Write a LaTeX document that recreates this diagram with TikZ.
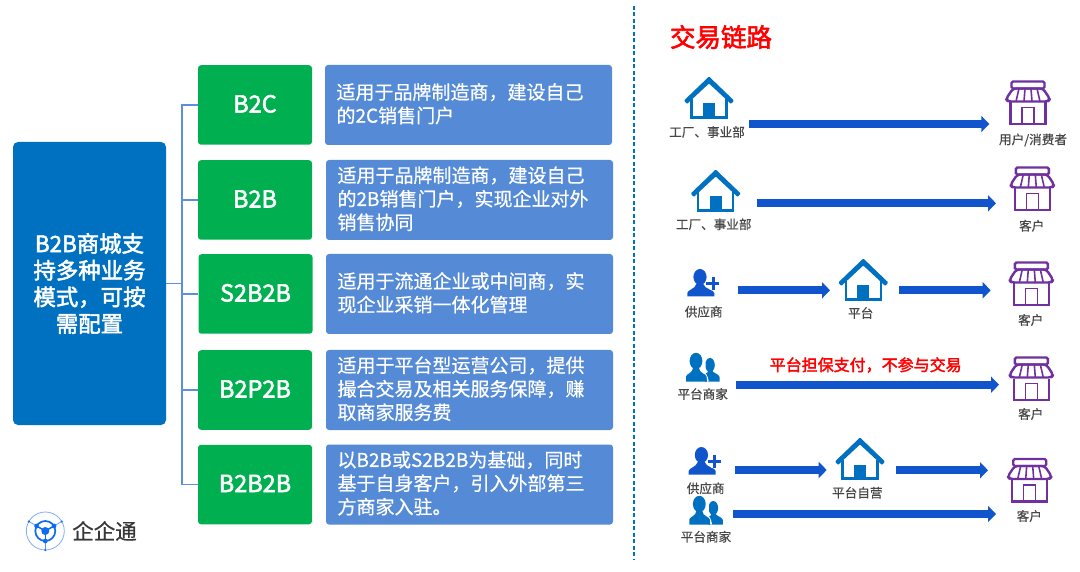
\documentclass[tikz,border=0pt]{standalone}
\usepackage{fontspec}
\setmainfont{Noto Sans CJK SC}
\newfontfamily\heavyfont{Noto Sans CJK SC}[FakeBold=2.2]
\newfontfamily\softfont{Noto Sans CJK SC}[FakeBold=0.6]
\usepackage{xcolor}
\usetikzlibrary{arrows.meta}
\definecolor{mainblue}{HTML}{0070C0}
\definecolor{boxgreen}{HTML}{00B050}
\definecolor{boxblue}{HTML}{558BD6}
\definecolor{linkblue}{HTML}{5B90DC}
\definecolor{flowblue}{HTML}{1155CC}
\definecolor{shoppurple}{HTML}{7030A0}
\definecolor{logoblue}{HTML}{0F6BF0}
\tikzset{
  mainbox/.style={fill=mainblue,rounded corners=5pt,text=white,align=center,font=\fontsize{22.4}{26.7}\selectfont\heavyfont},
  modebox/.style={fill=boxgreen,rounded corners=3pt,text=white,text height=17pt,text depth=2pt,font=\fontsize{23.5}{28}\selectfont\heavyfont},
  descbox/.style={fill=boxblue,rounded corners=3pt,text=white,align=left,font=\fontsize{19}{23.5}\selectfont\softfont,minimum width=287pt,minimum height=80pt,text width=264pt,execute at end node={\par\vspace{2.5pt}}},
  link/.style={draw=linkblue,line width=1.2pt},
  flow/.style={flowblue,line width=8pt,-{Triangle[length=8pt,width=16pt]}},
  caption/.style={text=black!72,font=\fontsize{12.6}{14}\selectfont\softfont},
  housepic/.pic={
    \fill[mainblue,rounded corners=1pt] (-25,2.5) -- (0,-21.5) -- (25,2.5) -- (22,6) -- (0,-14.5) -- (-22,6) -- cycle;
    \draw[mainblue,line width=2.2pt] (-17.5,1) -- (-17.5,19.5) -- (17.5,19.5) -- (17.5,1);
    \fill[mainblue] (-6,5.5) rectangle (6,20);
  },
  shoppic/.pic={
    \draw[shoppurple,line width=2.4pt,rounded corners=1.5pt] (-16.5,-14) rectangle (16.5,-21);
    \draw[shoppurple,line width=2.4pt,line join=round,rounded corners=3pt] (-15,-14) -- (15,-14) -- (22,-3.5) -- (20,-1) -- (-20,-1) -- (-22,-3.5) -- cycle;
    \foreach \a/\b in {-9/-12,-3/-4,3/4,9/12}
      \draw[shoppurple,line width=1.6pt] (\a,-14) -- (\b,-1);
    \draw[shoppurple,line width=2.4pt] (-17.5,0) -- (-17.5,21.5) -- (17.5,21.5) -- (17.5,0);
    \draw[shoppurple,line width=1.4pt] (-6,21.5) -- (-6,5) -- (6,5) -- (6,21.5);
  },
  addpic/.pic={
    \fill[flowblue] (0.7,-10) ellipse (6.6 and 8);
    \fill[flowblue] (-12,9.5) -- (-12,6) .. controls (-12,3) and (-4,2) .. (-3,-3) -- (4,-3) .. controls (5,2) and (15,3) .. (15,6) -- (15,9.5) -- cycle;
    \draw[white,line width=6pt] (7,-3.3) -- (20,-3.3) (13.7,-10) -- (13.7,3.4);
    \draw[flowblue,line width=3pt] (7,-3.3) -- (20,-3.3) (13.7,-10) -- (13.7,3.4);
  },
  pairpic/.pic={
    \fill[mainblue] (14,-7) ellipse (4.8 and 7);
    \fill[mainblue] (9,9.5) -- (9,2) .. controls (12,1) and (12,0) .. (12,-2) -- (16,-2) .. controls (16,1) and (23.5,2) .. (23.5,5) -- (23.5,9.5) -- cycle;
    \draw[white,line width=1.5pt] (8,-12) .. controls (10,-6) and (8,-2) .. (7.5,0) .. controls (9,2) and (11,3) .. (12,9.5);
    \fill[mainblue] (0,-11) ellipse (6.4 and 8.2);
    \fill[mainblue] (-10,9.5) -- (-10,4.5) .. controls (-10,2) and (-3,1) .. (-3,-4) -- (3,-4) .. controls (3,1) and (10.5,2) .. (10.5,4.5) -- (10.5,9.5) -- cycle;
  }
}
\begin{document}
\begin{tikzpicture}[x=1pt,y=-1pt]
\useasboundingbox (0,0) rectangle (1080,572);

% left column
\node[mainbox,minimum width=153pt,minimum height=283pt] (mode) at (89.5,283.5) {B2B商城支\\持多种业务\\模式，可按\\需配置};
\foreach \name/\x/\y/\txt in {btc/255/105/B2C,btb/255/200/B2B,sbb/255.5/294/S2B2B,bpb/255/390/B2P2B,bbb/255/484.5/B2B2B}
  \node[modebox,minimum width=114pt,minimum height=79.5pt] (\name) at (\x,\y) {\txt};

\node[descbox] (dbtc) at (468.5,105) {适用于品牌制造商，建设自己\\的2C销售门户};
\node[descbox] (dbtb) at (469.5,200) {适用于品牌制造商，建设自己\\的2B销售门户，实现企业对外\\销售协同};
\node[descbox] (dsbb) at (469.5,294) {适用于流通企业或中间商，实\\现企业采销一体化管理};
\node[descbox] (dbpb) at (469.5,390) {适用于平台型运营公司，提供\\撮合交易及相关服务保障，赚\\取商家服务费};
\node[descbox] (dbbb) at (469.5,484.5) {以B2B或S2B2B为基础，同时\\基于自身客户，引入外部第三\\方商家入驻。};

% tree lines
\coordinate (trunk) at (182,283.5);
\draw[link] (mode.east |- trunk) -- (trunk);
\foreach \name in {btc,btb,sbb,bpb,bbb}
  \draw[link] (trunk) |- (\name.west);

% logo
\coordinate (logo) at (45.3,531);
\draw[logoblue!55,line width=0.8pt] (logo) circle (19);
\draw[logoblue,line width=1.7pt] (logo) circle (10);
\fill[logoblue] (logo) circle (4);
\foreach \a in {90,210,330}{
  \draw[logoblue!70,line width=0.7pt] (logo) -- ++(\a:19);
  \draw[logoblue,line width=1.5pt] (logo) -- ++(\a:10);
  \fill[logoblue] (logo) ++(\a:10) circle (2.4);
  \fill[logoblue] (logo) ++(\a:19) circle (1.2);
}
\node[text=black!78,font=\fontsize{21.5}{24}\selectfont\softfont] (brand) at (104.5,531) {企企通};

% divider
\coordinate (dtop) at (634,6);
\coordinate (dbot) at (634,560);
\draw[mainblue,line width=1.2pt,dash pattern=on 4pt off 2.5pt] (dtop) -- (dbot);

\node[text=red,font=\fontsize{25.5}{28}\selectfont\heavyfont] (title) at (721,37) {交易链路};

% icons
\foreach \x/\y in {709/98,715.7/191,863.3/280,860/459}
  \pic at (\x,\y) {housepic};
\foreach \x/\y in {1028/102.5,1032.3/188.5,1031.3/283.5,1031.3/378.5,1029.7/480}
  \pic at (\x,\y) {shoppic};
\pic at (699.3,287) {addpic};
\pic at (700.7,465) {addpic};
\pic at (696,372) {pairpic};
\pic at (699.3,515) {pairpic};

% captions
\node[caption] (c1) at (707,132) {工厂、事业部};
\node[caption] (c2) at (1033,140) {用户/消费者};
\node[caption] (c3) at (713.7,224.3) {工厂、事业部};
\node[caption] (c4) at (1031.7,225.7) {客户};
\node[caption] (c5) at (703.7,311.7) {供应商};
\node[caption] (c6) at (860.7,313) {平台};
\node[caption] (c7) at (1030.7,320) {客户};
\node[caption] (c8) at (702.7,394) {平台商家};
\node[caption] (c9) at (1030.7,414) {客户};
\node[caption] (c10) at (705.7,488.3) {供应商};
\node[caption] (c11) at (857.3,492.7) {平台自营};
\node[caption] (c12) at (706,536.7) {平台商家};
\node[caption] (c13) at (1029.3,516) {客户};
\node[text=red,font=\fontsize{16}{18}\selectfont\heavyfont] (guarantee) at (865.7,365) {平台担保支付，不参与交易};

% flows
\foreach \n/\xa/\xb/\y in {a/749.3/989.3/124,b/756.7/996/203.3,c/738.3/830/290.3,d/899.3/990.7/290.3,e/736/999/384.7,f/735/826.7/470,g/896/988/470.3,h/733.3/996/514}{
  \coordinate (\n s) at (\xa,\y);
  \coordinate (\n t) at (\xb,\y);
  \draw[flow] (\n s) -- (\n t);
}
\end{tikzpicture}
\end{document}
